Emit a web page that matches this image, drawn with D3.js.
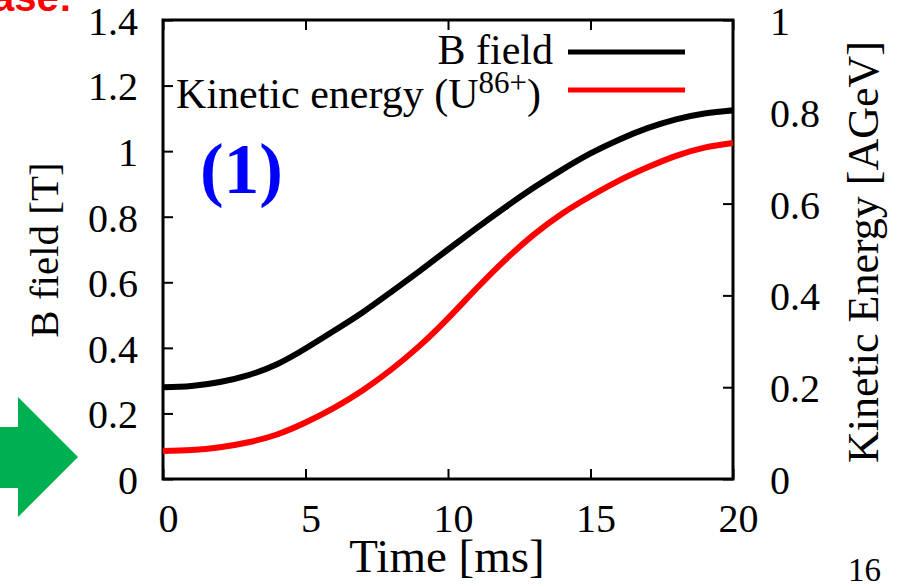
<!DOCTYPE html>
<meta charset="utf-8">
<script src="https://d3js.org/d3.v7.min.js"></script>
<style>
body { margin:0; background:#fff; }
svg text { font-family:"Liberation Serif","Times New Roman",serif; fill:#000; }
</style>
<body>
</body>
<script>

// time axis [ms]
var times = [0,1,2,3,4,5,6,7,8,9,10,11,12,13,14,15,16,17,18,19,20];
// B field [T], left axis
var bField = [0.280,0.284,0.296,0.317,0.350,0.398,0.452,0.508,0.570,0.634,0.700,0.765,0.828,0.888,0.943,0.993,1.035,1.070,1.097,1.115,1.125];
// kinetic energy of U86+ [AGeV], right axis
var kinEnergy = [0.061,0.063,0.069,0.080,0.097,0.123,0.155,0.193,0.238,0.290,0.350,0.415,0.477,0.532,0.578,0.616,0.650,0.679,0.704,0.722,0.732];

var xTicks = [0,5,10,15,20];
var yLeftTicks = [0,0.2,0.4,0.6,0.8,1,1.2,1.4];
var yRightTicks = [0,0.2,0.4,0.6,0.8,1];

var width = 897, height = 587;
// plot frame (don't call it "top", that's window.top)
var pLeft = 163, pRight = 733, pTop = 20, pBottom = 479;

var svg = d3.select("body").append("svg")
    .attr("width", width)
    .attr("height", height);

var x = d3.scaleLinear().domain([0,20]).range([pLeft,pRight]);
var yL = d3.scaleLinear().domain([0,1.4]).range([pBottom,pTop]);
var yR = d3.scaleLinear().domain([0,1]).range([pBottom,pTop]);

var fmt = d3.format("~g");

// clipped red heading at very top left
svg.append("text")
    .attr("x", 72).attr("y", 11)
    .attr("text-anchor", "end")
    .style("font-family", "'Liberation Sans',Arial,sans-serif")
    .style("font-weight", "bold")
    .style("font-size", "40px")
    .style("fill", "#ff0000")
    .text("Phase:");

// green block arrow
svg.append("path")
    .attr("d", "M0,427 L18,427 L18,397 L78,457 L18,517 L18,488 L0,488 Z")
    .attr("fill", "#00b050");

// axes (ticks point inward)
function styleAxis(g) {
  g.select(".domain").remove();
  g.selectAll(".tick line").attr("stroke", "#000").attr("stroke-width", 2);
  g.selectAll(".tick text").style("font-size", "40px").attr("font-family", null);
}

svg.append("g")
    .attr("transform", "translate(0," + pBottom + ")")
    .call(d3.axisBottom(x).tickValues(xTicks).tickFormat(fmt).tickSizeInner(-10).tickSizeOuter(0).tickPadding(25))
    .call(styleAxis)
    .selectAll(".tick text").attr("dx", 5);

svg.append("g")
    .attr("transform", "translate(0," + pTop + ")")
    .call(d3.axisTop(x).tickValues(xTicks).tickFormat("").tickSizeInner(-10).tickSizeOuter(0))
    .call(styleAxis);

svg.append("g")
    .attr("transform", "translate(" + pLeft + ",0)")
    .call(d3.axisLeft(yL).tickValues(yLeftTicks).tickFormat(fmt).tickSizeInner(-10).tickSizeOuter(0).tickPadding(25))
    .call(styleAxis)
    .selectAll(".tick text").attr("dy", "0.36em");

svg.append("g")
    .attr("transform", "translate(" + pRight + ",0)")
    .call(d3.axisRight(yR).tickValues(yRightTicks).tickFormat(fmt).tickSizeInner(-10).tickSizeOuter(0).tickPadding(37))
    .call(styleAxis)
    .selectAll(".tick text").attr("dy", "0.36em");

// frame
svg.append("rect")
    .attr("x", pLeft).attr("y", pTop)
    .attr("width", pRight - pLeft).attr("height", pBottom - pTop)
    .attr("fill", "none").attr("stroke", "#000").attr("stroke-width", 3);

// curves
var lineB = d3.line()
    .x(function(d, i) { return x(times[i]); })
    .y(function(d) { return yL(d); })
    .curve(d3.curveNatural);

var lineK = d3.line()
    .x(function(d, i) { return x(times[i]); })
    .y(function(d) { return yR(d); })
    .curve(d3.curveNatural);

svg.append("path").datum(kinEnergy)
    .attr("d", lineK).attr("fill", "none")
    .attr("stroke", "#ff0000").attr("stroke-width", 6);

svg.append("path").datum(bField)
    .attr("d", lineB).attr("fill", "none")
    .attr("stroke", "#000").attr("stroke-width", 6);

// legend
svg.append("text")
    .attr("x", 553).attr("y", 64)
    .attr("text-anchor", "end")
    .style("font-size", "42px")
    .text("B field");
svg.append("line")
    .attr("x1", 568).attr("x2", 685).attr("y1", 52).attr("y2", 52)
    .attr("stroke", "#000").attr("stroke-width", 5);

var kt = svg.append("text")
    .attr("x", 541).attr("y", 108)
    .attr("text-anchor", "end")
    .style("font-size", "42px");
kt.append("tspan").text("Kinetic energy (U");
kt.append("tspan").attr("dy", -15).style("font-size", "31px").text("86+");
kt.append("tspan").attr("dy", 15).text(")");
svg.append("line")
    .attr("x1", 568).attr("x2", 685).attr("y1", 90).attr("y2", 90)
    .attr("stroke", "#ff0000").attr("stroke-width", 5);

// panel marker
svg.append("text")
    .attr("x", 200).attr("y", 193)
    .style("font-size", "71px")
    .style("font-weight", "bold")
    .style("fill", "#0000ff")
    .text("(1)");

// axis titles
svg.append("text")
    .attr("transform", "translate(58,250) rotate(-90)")
    .attr("text-anchor", "middle")
    .style("font-size", "41px")
    .text("B field [T]");

svg.append("text")
    .attr("transform", "translate(878,252) rotate(-90)")
    .attr("text-anchor", "middle")
    .style("font-size", "44px")
    .text("Kinetic Energy [AGeV]");

svg.append("text")
    .attr("x", 447).attr("y", 572)
    .attr("text-anchor", "middle")
    .style("font-size", "47px")
    .text("Time [ms]");

// slide number
svg.append("text")
    .attr("x", 848).attr("y", 581)
    .style("font-size", "33px")
    .text("16");

</script>
